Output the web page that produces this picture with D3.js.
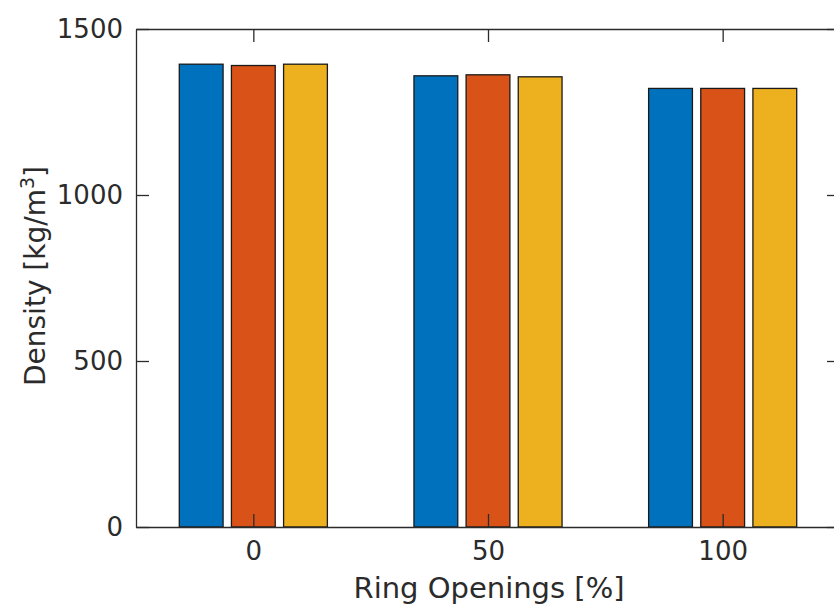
<!DOCTYPE html>
<html>
<head>
<meta charset="utf-8">
<script src="https://cdn.jsdelivr.net/npm/d3@7"></script>
<style>
  body { margin: 0; background: #fff; }
  svg { display: block; font-family: "DejaVu Sans", sans-serif; }
</style>
</head>
<body>
<svg id="svg" width="834" height="608"></svg>
<script>
// ring openings (x positions) and density per case
const openings = [0, 50, 100];
const seriesNames = ["s1", "s2", "s3"];
const density1 = [1394, 1359, 1321];
const density2 = [1390, 1362, 1321];
const density3 = [1394, 1356, 1321];
const yTicks = [0, 500, 1000, 1500];
const colors = ["#0072BD", "#D95319", "#EDB120"];

const allSeries = [density1, density2, density3];

const svg = d3.select("#svg");
const mLeft = 136, mRight = 840, mTop = 29, mBottom = 527;
const axisColor = "#2b2b2b";
const tickLen = 13;

const xScale = d3.scaleLinear().domain([-25, 125]).range([mLeft, mRight]);
const yScale = d3.scaleLinear().domain([0, 1500]).range([mBottom, mTop]);
// offsets of the bars inside each group, in data units
const offset = d3.scaleBand()
  .domain(seriesNames)
  .range([-50 / 3, 50 / 3])
  .paddingInner(0.16)
  .paddingOuter(0.08);

// bars
allSeries.forEach((vals, i) => {
  svg.append("g")
    .selectAll("rect")
    .data(openings.map((o, j) => ({ x: o, v: vals[j] })))
    .join("rect")
    .attr("x", d => xScale(d.x + offset(seriesNames[i])))
    .attr("width", d => xScale(d.x + offset(seriesNames[i]) + offset.bandwidth()) - xScale(d.x + offset(seriesNames[i])))
    .attr("y", d => yScale(d.v))
    .attr("height", d => yScale(0) - yScale(d.v))
    .attr("fill", colors[i])
    .attr("stroke", "#1a1a1a")
    .attr("stroke-width", 1.3);
});

// axes (ticks point inward, box on all sides)
const fontSize = 26;
const fmt = d3.format("d");
const xAxis = svg.append("g")
  .attr("transform", `translate(0, ${mBottom})`)
  .call(d3.axisBottom(xScale).tickValues(openings).tickFormat(fmt).tickSizeInner(-tickLen).tickSizeOuter(0).tickPadding(15));
const xAxisTop = svg.append("g")
  .attr("transform", `translate(0, ${mTop})`)
  .call(d3.axisTop(xScale).tickValues(openings).tickSizeInner(-tickLen).tickSizeOuter(0).tickFormat(""));
const yAxis = svg.append("g")
  .attr("transform", `translate(${mLeft}, 0)`)
  .call(d3.axisLeft(yScale).tickValues(yTicks).tickFormat(fmt).tickSizeInner(-tickLen).tickSizeOuter(0).tickPadding(13));
const yAxisRight = svg.append("g")
  .attr("transform", `translate(${mRight}, 0)`)
  .call(d3.axisRight(yScale).tickValues(yTicks).tickSizeInner(-tickLen).tickSizeOuter(0).tickFormat(""));

[xAxis, xAxisTop, yAxis, yAxisRight].forEach(a => {
  a.selectAll("path, line").attr("stroke", axisColor).attr("stroke-width", 1.3);
  a.selectAll("text")
    .attr("fill", axisColor)
    .style("font-family", "DejaVu Sans, sans-serif")
    .style("font-size", fontSize + "px");
});

// axis labels
svg.append("text")
  .attr("x", 489)
  .attr("y", 598)
  .attr("text-anchor", "middle")
  .attr("fill", axisColor)
  .style("font-size", "29px")
  .text("Ring Openings [%]");

const yLabel = svg.append("text")
  .attr("transform", `translate(45, ${(mTop + mBottom) / 2 - 2}) rotate(-90)`)
  .attr("text-anchor", "middle")
  .attr("fill", axisColor)
  .style("font-size", "28px");
yLabel.append("tspan").text("Density [kg/m");
yLabel.append("tspan").attr("dy", -11).style("font-size", "19px").text("3");
yLabel.append("tspan").attr("dy", 11).text("]");
</script>
</body>
</html>
